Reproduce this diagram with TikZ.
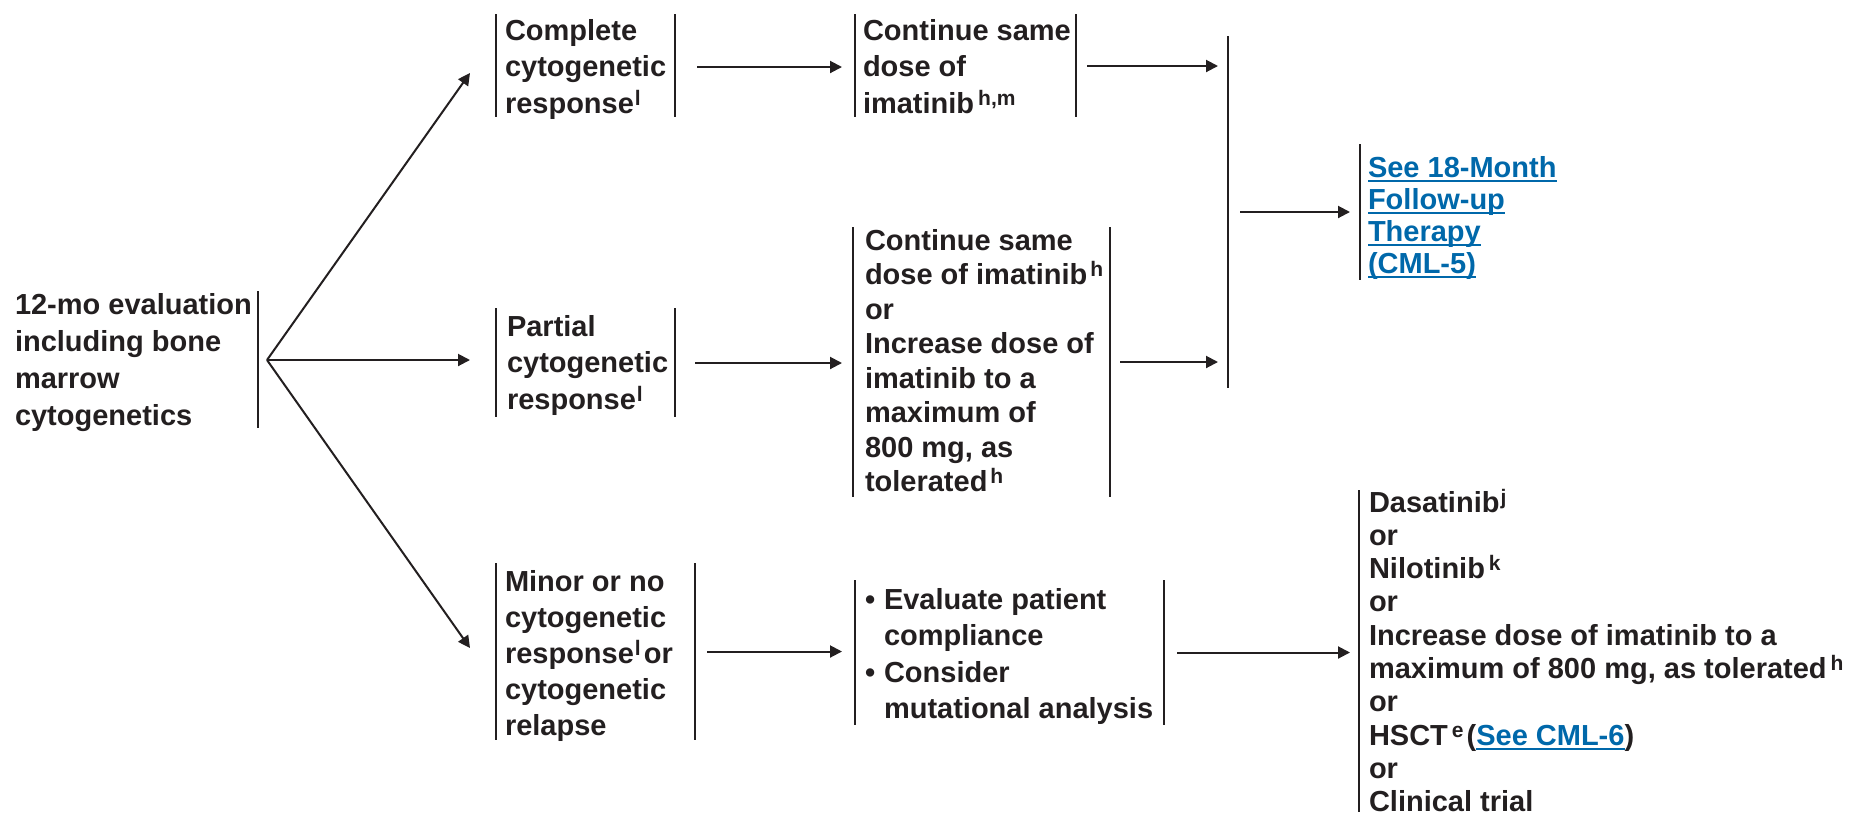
\documentclass[tikz,border=0pt]{standalone}
\usepackage{fontspec}
\setmainfont{Liberation Sans}
\usetikzlibrary{arrows.meta,calc}

\definecolor{ink}{RGB}{35,31,32}
\definecolor{linkblue}{RGB}{0,104,170}

% footnote marks
\newcommand\sps[1]{\raisebox{8pt}{\fontsize{21}{21}\selectfont #1}}
% underlined cross-reference
\newcommand\lnk[1]{{\color{linkblue}\setbox0=\hbox{#1}\rlap{\rule[-5pt]{\wd0}{1.8pt}}\box0}}
% left-aligned lines, baseline at the first line
\newcommand\stack[1]{\begin{tabular}[t]{@{}l@{}}#1\end{tabular}}
% list bullet with hanging indent
\newcommand\bul{\makebox[19pt][l]{\textbullet}}

\begin{document}
\begin{tikzpicture}[x=1pt,y=-1pt,
  txt/.style={anchor=base west, inner sep=0pt, outer sep=0pt, text=ink,
              font=\bfseries\fontsize{29}{#1}\selectfont},
  txt/.default=35,
  slot/.style 2 args={draw=none, inner sep=0pt, outer sep=0pt,
              minimum width=#1pt, minimum height=#2pt},
  barl/.style={draw=ink, line width=2.4pt},
  bars/.style={append after command={
      (\tikzlastnode.north west) edge[barl] (\tikzlastnode.south west)
      (\tikzlastnode.north east) edge[barl] (\tikzlastnode.south east)}},
  lbar/.style={append after command={
      (\tikzlastnode.north west) edge[barl] (\tikzlastnode.south west)}},
  arr/.style={draw=ink, line width=2pt, -{Triangle[length=12pt,width=12pt]}}]

\useasboundingbox (0,0) rectangle (1851,812);

% ---- bracketed slots ----
\node[slot={0}{137}, lbar]   (L0)  at (258,359.5) {};
\node[slot={179}{103}, bars] (T1)  at (585.5,65.5) {};
\node[slot={221}{103}, bars] (T2)  at (965.5,65.5) {};
\node[slot={0}{352}, lbar]   (BIG) at (1228,212) {};
\node[slot={0}{136}, lbar]   (LNK) at (1360,212) {};
\node[slot={179}{109}, bars] (M1)  at (585.5,362.5) {};
\node[slot={257}{270}, bars] (M2)  at (981.5,362) {};
\node[slot={199}{177}, bars] (B1)  at (595.5,651.5) {};
\node[slot={309}{145}, bars] (B2)  at (1009.5,652.5) {};
\node[slot={0}{322}, lbar]   (FIN) at (1359,651) {};

% ---- texts ----
\node[txt=37] (L0t) at (15,314)
  {\stack{12-mo evaluation\\including bone\\marrow\\cytogenetics}};
\node[txt=36.5] (T1t) at (505,40)
  {\stack{Complete\\cytogenetic\\response\hspace{1pt}\sps{l}}};
\node[txt=36.5] (T2t) at (863,40)
  {\stack{Continue same\\dose of\\imatinib\hspace{4pt}\sps{h,m}}};
\node[txt=32] (LNKt) at (1368,177)
  {\stack{\lnk{See 18-Month}\\\lnk{Follow-up}\\\lnk{Therapy}\\\lnk{(CML-5)}}};
\node[txt=36.5] (M1t) at (507,336)
  {\stack{Partial\\cytogenetic\\response\hspace{1pt}\sps{l}}};
\node[txt=34.5] (M2t) at (865,250)
  {\stack{Continue same\\dose of imatinib\hspace{3pt}\sps{h}\\or\\Increase dose of\\imatinib to a\\maximum of\\800 mg, as\\tolerated\hspace{3pt}\sps{h}}};
\node[txt=36] (B1t) at (505,591)
  {\stack{Minor or no\\cytogenetic\\response\hspace{1pt}\sps{l}\hspace{3pt}or\\cytogenetic\\relapse}};
\node[txt=36.5] (B2t) at (865,609)
  {\begin{tabular}[t]{@{}l@{}l@{}}\bul & Evaluate patient\\ & compliance\\ \bul & Consider\\ & mutational analysis\end{tabular}};
\node[txt=33.3] (FINt) at (1369,512)
  {\stack{Dasatinib\hspace{1pt}\sps{j}\\or\\Nilotinib\hspace{4pt}\sps{k}\\or\\Increase dose of imatinib to a\\maximum of 800 mg, as tolerated\hspace{4pt}\sps{h}\\or\\HSCT\hspace{4pt}\sps{e}\hspace{3pt}(\lnk{See CML-6})\\or\\Clinical trial}};

% ---- connectors ----
\coordinate (fork) at (267,360);
\coordinate (mtip) at ($(M1.west)+(-26,0)$);
\draw[arr] (fork) -- ($(T1.west)+(-26,7.5)$);
\draw[arr] (fork) -- (fork -| mtip);
\draw[arr] (fork) -- ($(B1.west)+(-26,-3.5)$);

\draw[arr] ($(T1.east)+(22,1.5)$) -- ($(T1.east -| T2.west)+(-13,1.5)$);
\draw[arr] ($(T2.east)+(11,0.5)$) -- ($(T2.east -| BIG.west)+(-10,0.5)$);
\draw[arr] ($(M1.east)+(20,0.5)$) -- ($(M1.east -| M2.west)+(-11,0.5)$);
\draw[arr] ($(M2.east)+(10,0)$) -- ($(M2.east -| BIG.west)+(-10,0)$);
\draw[arr] ($(BIG.center)+(12,0)$) -- ($(LNK.west)+(-10,0)$);
\draw[arr] ($(B1.east)+(12,0)$) -- ($(B1.east -| B2.west)+(-13,0)$);
\draw[arr] ($(B2.east)+(13,0)$) -- ($(B2.east -| FIN.west)+(-9,0)$);

\end{tikzpicture}
\end{document}
